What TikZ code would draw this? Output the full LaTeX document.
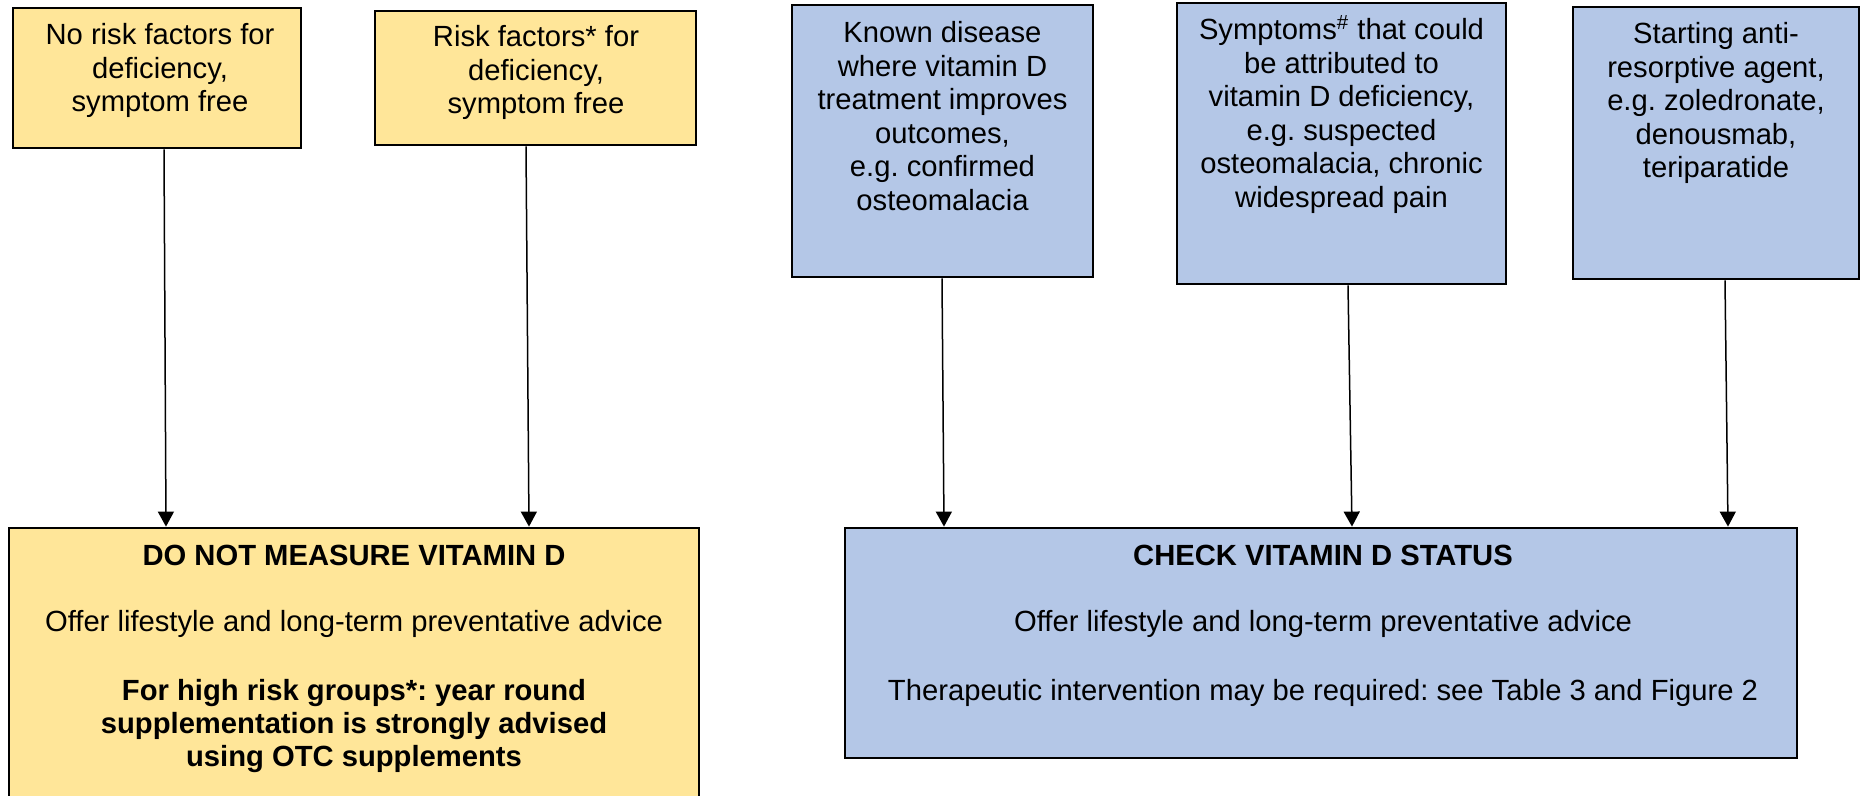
\documentclass[tikz,border=0pt]{standalone}
\usepackage{fontspec}
\setmainfont{Liberation Sans}
\usetikzlibrary{fit,arrows.meta}
\definecolor{ygold}{HTML}{FFE699}
\definecolor{lblue}{HTML}{B4C7E7}
\newcommand\mylines[1]{\begin{tabular}[t]{@{}c@{}}#1\end{tabular}}
\frenchspacing
\tikzset{
  ybox/.style={draw=black, line width=1.4pt, fill=ygold, inner sep=0pt},
  bbox/.style={draw=black, line width=1.4pt, fill=lblue, inner sep=0pt},
  txt/.style={inner sep=0pt, anchor=base, font=\fontsize{14.6pt}{16.75pt}\selectfont},
  arr/.style={draw=black, line width=0.75pt, -{Triangle[width=8pt,length=7.5pt]}}
}
\begin{document}
\begin{tikzpicture}[x=0.5pt,y=-0.5pt]
\clip (0,0) rectangle (1864,796);
\fill[white] (0,0) rectangle (1864,796);
% top boxes
\node[ybox, fit={(13,8) (301,148)}] (b1) {};
\node[ybox, fit={(375,11) (696,145)}] (b2) {};
\node[bbox, fit={(792,5) (1093,277)}] (b3) {};
\node[bbox, fit={(1177,3) (1506,284)}] (b4) {};
\node[bbox, fit={(1573,7) (1859,279)}] (b5) {};
% bottom boxes
\node[ybox, fit={(9,528) (699,830)}] (d1) {};
\node[bbox, fit={(845,528) (1797,758)}] (d2) {};
% texts
\node[txt] (t1) at (160,45) {\mylines{No risk factors for\\deficiency,\\symptom free}};
\node[txt] (t2) at (536,47) {\mylines{Risk factors* for\\deficiency,\\symptom free}};
\node[txt] (t3) at (942.5,43) {\mylines{Known disease\\where vitamin D\\treatment improves\\outcomes,\\e.g. confirmed\\osteomalacia}};
\node[txt] (t4) at (1341.5,40) {\mylines{Symptoms\textsuperscript{\#} that could\\be attributed to\\vitamin D deficiency,\\e.g. suspected\\osteomalacia, chronic\\widespread pain}};
\node[txt] (t5) at (1716,44) {\mylines{Starting anti-\\resorptive agent,\\e.g. zoledronate,\\denousmab,\\teriparatide}};
\node[txt, font=\fontsize{14.6pt}{16.75pt}\selectfont\bfseries] (t6) at (354,566) {DO NOT MEASURE VITAMIN D};
\node[txt] (t7) at (354,632) {Offer lifestyle and long-term preventative advice};
\node[txt, font=\fontsize{14.6pt}{16.5pt}\selectfont\bfseries] (t8) at (354,700) {\mylines{For high risk groups*: year round\\supplementation is strongly advised\\using OTC supplements}};
\node[txt, font=\fontsize{14.6pt}{16.75pt}\selectfont\bfseries] (t9) at (1323,566) {CHECK VITAMIN D STATUS};
\node[txt] (t10) at (1323,632) {Offer lifestyle and long-term preventative advice};
\node[txt] (t11) at (1323,700) {Therapeutic intervention may be required: see Table 3 and Figure 2};
% arrows
\draw[arr] (b1.south -| 164,0) -- (d1.north -| 166,0);
\draw[arr] (b2.south -| 526,0) -- (d1.north -| 529,0);
\draw[arr] (b3.south -| 942,0) -- (d2.north -| 944,0);
\draw[arr] (b4.south -| 1348,0) -- (d2.north -| 1352,0);
\draw[arr] (b5.south -| 1725,0) -- (d2.north -| 1728,0);
\end{tikzpicture}
\end{document}
